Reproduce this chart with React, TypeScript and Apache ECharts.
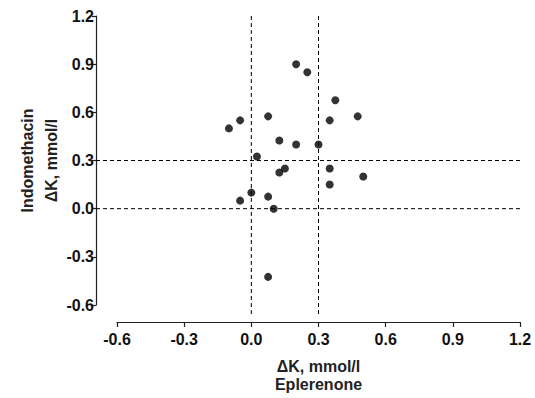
import React, { useEffect, useRef } from "react";
import * as echarts from "echarts";

const eplerenone = [0.2, 0.25, 0.375, 0.075, -0.05, -0.1, 0.35, 0.475, 0.125, 0.2, 0.3, 0.025, 0.15, 0.125, 0.35, 0.5, 0.35, 0, 0.075, -0.05, 0.1, 0.075];
const indomethacin = [0.9, 0.85, 0.675, 0.575, 0.55, 0.5, 0.55, 0.575, 0.425, 0.4, 0.4, 0.325, 0.25, 0.225, 0.25, 0.2, 0.15, 0.1, 0.075, 0.05, 0, -0.425];
const verticalRefs = [0, 0.3];
const horizontalRefs = [0, 0.3];
const AX_MIN = -0.6;
const AX_MAX = 1.2;
const AX_STEP = 0.3;

const FONT = "'Liberation Sans', Arial, sans-serif";

export default function App() {
  const ref = useRef<HTMLDivElement>(null);
  useEffect(() => {
    if (!ref.current) return;
    document.body.style.margin = "0";
    const chart = echarts.init(ref.current, null, { renderer: "svg" });
    const X_OFF = 17;
    const Y_OFF = 21;
    const dash = { stroke: "#000", lineWidth: 1, lineDash: [4, 3] };
    chart.setOption({
      animation: false,
      backgroundColor: "#fff",
      grid: { left: 117, right: 15, top: 16, bottom: 92 },
      xAxis: {
        type: "value",
        min: AX_MIN,
        max: AX_MAX,
        interval: AX_STEP,
        offset: X_OFF,
        name: "\u0394K, mmol/l\nEplerenone",
        nameLocation: "middle",
        nameGap: 35,
        nameMoveOverlap: false,
        nameTextStyle: { color: "#222", fontFamily: FONT, fontWeight: "bold", fontSize: 16, lineHeight: 18, verticalAlign: "top" },
        splitLine: { show: false },
        axisLine: { show: true, onZero: false, lineStyle: { color: "#222", width: 1.2 } },
        axisTick: { show: true, length: 5, lineStyle: { color: "#222", width: 1.2 } },
        axisLabel: { color: "#111", fontFamily: FONT, fontWeight: "bold", fontSize: 16, margin: 9, formatter: (v: number) => v.toFixed(1) },
      },
      yAxis: {
        type: "value",
        min: AX_MIN,
        max: AX_MAX,
        interval: AX_STEP,
        offset: Y_OFF,
        name: "Indomethacin\n\u0394K, mmol/l",
        nameLocation: "middle",
        nameRotate: 90,
        nameGap: 33,
        nameMoveOverlap: false,
        nameTextStyle: { color: "#222", fontFamily: FONT, fontWeight: "bold", fontSize: 16, lineHeight: 24 },
        splitLine: { show: false },
        axisLine: { show: true, onZero: false, lineStyle: { color: "#222", width: 1.2 } },
        axisTick: { show: true, length: 4, lineStyle: { color: "#222", width: 1.2 } },
        axisLabel: { color: "#111", fontFamily: FONT, fontWeight: "bold", fontSize: 16, margin: 2, formatter: (v: number) => v.toFixed(1) },
      },
      series: [
        {
          type: "custom",
          silent: true,
          data: verticalRefs.map((v) => [v, 0]),
          renderItem: (params: any, api: any) => {
            const v = api.value(0);
            const p1 = api.coord([v, AX_MAX]);
            const p2 = api.coord([v, AX_MIN]);
            return { type: "line", shape: { x1: p1[0], y1: p1[1], x2: p2[0], y2: p2[1] + 11 }, style: dash };
          },
        },
        {
          type: "custom",
          silent: true,
          data: horizontalRefs.map((v) => [0, v]),
          renderItem: (params: any, api: any) => {
            const v = api.value(1);
            const p1 = api.coord([AX_MIN, v]);
            const p2 = api.coord([AX_MAX, v]);
            return { type: "line", shape: { x1: p1[0] - Y_OFF, y1: p1[1], x2: p2[0], y2: p2[1] }, style: dash };
          },
        },
        {
          type: "scatter",
          symbol: "circle",
          symbolSize: 8,
          itemStyle: { color: "#000" },
          data: eplerenone.map((x, i) => [x, indomethacin[i]]),
        },
      ],
    });
    return () => chart.dispose();
  }, []);
  return <div ref={ref} style={{ width: 535, height: 398 }} />;
}
